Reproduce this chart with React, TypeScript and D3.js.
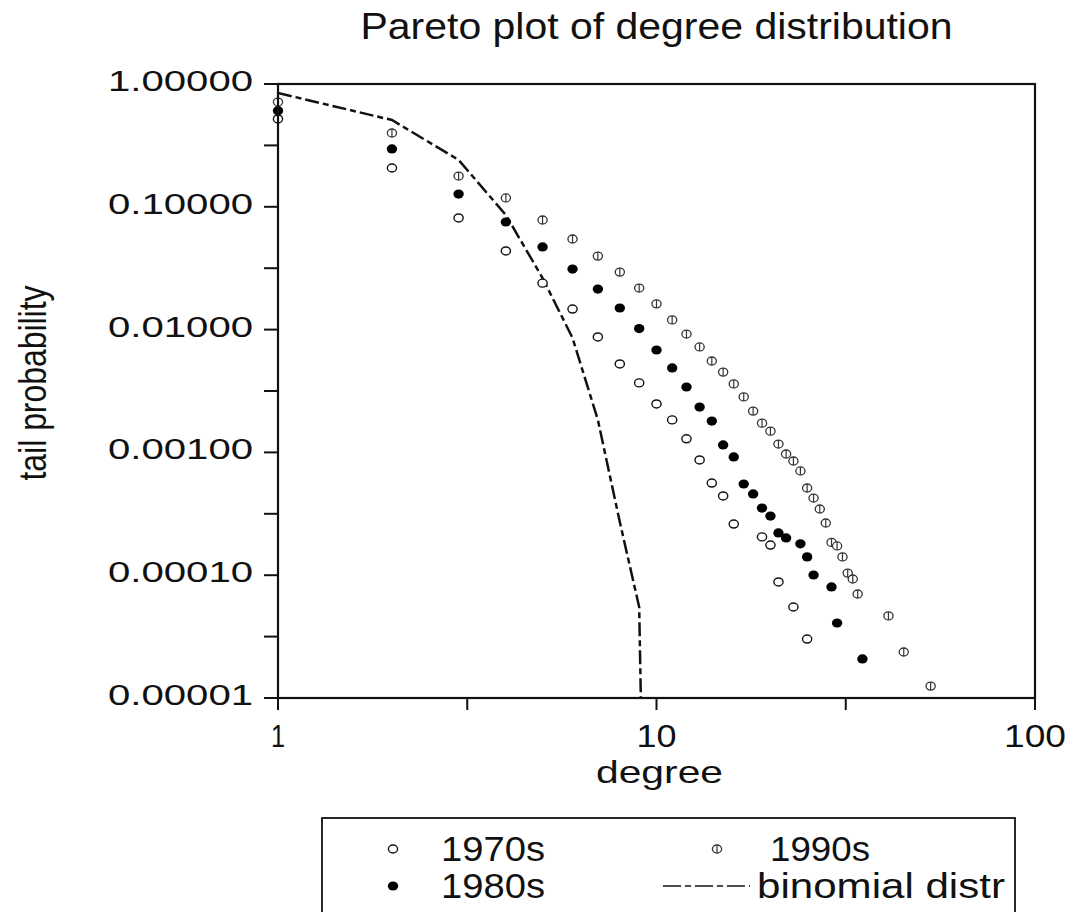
import React from 'react';
import * as d3 from 'd3';

// ---- data ----
const deg1970 = [1, 2, 3, 4, 5, 6, 7, 8, 9, 10, 11, 12, 13, 14, 15, 16, 19, 20, 21, 23, 25];
const tail1970 = [0.519, 0.207, 0.0811, 0.0437, 0.0239, 0.0147, 0.00871, 0.00525, 0.00368, 0.00248, 0.00184, 0.00129, 0.000868, 0.000563, 0.000442, 0.000261, 0.000205, 0.000176, 0.0000881, 0.0000551, 0.0000302];

const deg1980 = [1, 2, 3, 4, 5, 6, 7, 8, 9, 10, 11, 12, 13, 14, 15, 16, 17, 18, 19, 20, 21, 22, 24, 25, 26, 29, 30, 35];
const tail1980 = [0.606, 0.296, 0.127, 0.0752, 0.0471, 0.0311, 0.0214, 0.015, 0.0102, 0.00682, 0.00487, 0.00341, 0.00234, 0.0018, 0.00115, 0.000918, 0.000553, 0.000459, 0.000352, 0.000303, 0.000221, 0.000201, 0.00018, 0.000141, 0.0001004, 0.0000802, 0.0000408, 0.0000208];

const deg1990 = [1, 2, 3, 4, 5, 6, 7, 8, 9, 10, 11, 12, 13, 14, 15, 16, 17, 18, 19, 20, 21, 22, 23, 24, 25, 26, 27, 28, 29, 30, 31, 32, 33, 34, 41, 45, 53];
const tail1990 = [0.713, 0.399, 0.178, 0.118, 0.0781, 0.0547, 0.0397, 0.0294, 0.0218, 0.0162, 0.012, 0.0092, 0.00722, 0.00555, 0.00451, 0.00361, 0.00283, 0.00217, 0.00173, 0.00149, 0.00117, 0.00097, 0.000851, 0.000706, 0.000513, 0.000425, 0.000346, 0.000266, 0.000185, 0.000173, 0.000141, 0.000104, 0.0000931, 0.0000703, 0.0000466, 0.0000237, 0.0000125];

const degBinom = [1, 2, 3, 4, 5, 6, 7, 8, 9, 10];
const tailBinom = [0.845, 0.509, 0.241, 0.0857, 0.0263, 0.00855, 0.00184, 0.000271, 0.000055, 1e-12];

const xTicks = [1, 10, 100];
const xMinorTicks = [Math.sqrt(10), Math.sqrt(1000)];
const yTicks = [1, 0.1, 0.01, 0.001, 0.0001, 0.00001];
const yMinorTicks = [Math.pow(10, -0.5), Math.pow(10, -1.5), Math.pow(10, -2.5), Math.pow(10, -3.5), Math.pow(10, -4.5)];

const titleText = 'Pareto plot of degree distribution';
const xLabel = 'degree';
const yLabel = 'tail probability';
const legendLabels = ['1970s', '1980s', '1990s', 'binomial distr'];

const FONT = '"Liberation Sans", Arial, Helvetica, sans-serif';

export default function App() {
  const L = 278, R = 1035, T = 84, B = 698;
  const x = d3.scaleLog().domain([1, 100]).range([L, R]);
  const y = d3.scaleLog().domain([1e-5, 1]).range([B, T]);
  const fmtY = d3.format('.5f');

  const line = d3
    .line<number>()
    .x((_, i) => x(degBinom[i]))
    .y((d) => y(d));

  const rx = 4.6, ry = 4.0;
  const openMarker = (cx: number, cy: number, k: string) => (
    <ellipse key={k} cx={cx} cy={cy} rx={rx} ry={ry} fill="white" stroke="#111" strokeWidth={1.4} />
  );
  const fillMarker = (cx: number, cy: number, k: string) => (
    <ellipse key={k} cx={cx} cy={cy} rx={rx + 0.6} ry={ry + 0.6} fill="#000" stroke="none" />
  );
  const thetaMarker = (cx: number, cy: number, k: string) => (
    <g key={k}>
      <ellipse cx={cx} cy={cy} rx={rx} ry={ry} fill="white" stroke="#333" strokeWidth={1.3} />
      <line x1={cx} x2={cx} y1={cy - ry} y2={cy + ry} stroke="#333" strokeWidth={1.2} />
    </g>
  );

  const xLabelWidths: Record<number, number> = { 1: 14, 10: 40, 100: 62 };

  return (
    <div style={{ position: 'absolute', left: 0, top: 0 }}>
      <svg width={1073} height={912} style={{ display: 'block', background: 'white' }} fontFamily={FONT}>
        <defs>
          <clipPath id="plotclip">
            <rect x={L} y={T} width={R - L} height={B - T} />
          </clipPath>
        </defs>

        {/* title */}
        <text x={(L + R) / 2} y={39} fontSize={37} textAnchor="middle" textLength={592} lengthAdjust="spacingAndGlyphs" fill="#111">
          {titleText}
        </text>

        {/* binomial line */}
        <path
          d={line(tailBinom) || ''}
          fill="none"
          stroke="#111"
          strokeWidth={2.5}
          strokeDasharray="14,4,6,4"
          clipPath="url(#plotclip)"
        />

        {/* points */}
        <g>
          {deg1970.map((d, i) => openMarker(x(d), y(tail1970[i]), 'a' + i))}
          {deg1990.map((d, i) => thetaMarker(x(d), y(tail1990[i]), 'c' + i))}
          {deg1980.map((d, i) => fillMarker(x(d), y(tail1980[i]), 'b' + i))}
        </g>

        {/* plot box */}
        <rect x={L} y={T} width={R - L} height={B - T} fill="none" stroke="#111" strokeWidth={2.2} />

        {/* y axis ticks */}
        {[...yTicks, ...yMinorTicks].map((t, i) => (
          <line key={'yt' + i} x1={L - 14} x2={L} y1={y(t)} y2={y(t)} stroke="#111" strokeWidth={2} />
        ))}
        {yTicks.map((t, i) => (
          <text key={'yl' + i} x={108} y={y(t) + 7} fontSize={29} textLength={145} lengthAdjust="spacingAndGlyphs" fill="#111">
            {fmtY(t)}
          </text>
        ))}

        {/* x axis ticks */}
        {[...xTicks, ...xMinorTicks].map((t, i) => (
          <line key={'xt' + i} x1={x(t)} x2={x(t)} y1={B} y2={B + 12} stroke="#111" strokeWidth={2} />
        ))}
        {xTicks.map((t, i) => (
          <text key={'xl' + i} x={x(t) - xLabelWidths[t] / 2} y={747} fontSize={32} textLength={xLabelWidths[t]} lengthAdjust="spacingAndGlyphs" fill="#111">
            {String(t)}
          </text>
        ))}

        {/* axis labels */}
        <text x={(L + R) / 2 + 3} y={783} fontSize={32} textAnchor="middle" textLength={127} lengthAdjust="spacingAndGlyphs" fill="#111">
          {xLabel}
        </text>
        <g transform={`translate(46, ${(T + B) / 2 - 8}) scale(1.22, 1) rotate(-90)`}>
          <text x={0} y={0} fontSize={32} textAnchor="middle" textLength={195} lengthAdjust="spacingAndGlyphs" fill="#111">
            {yLabel}
          </text>
        </g>

        {/* legend */}
        <rect x={322} y={818} width={693} height={130} fill="white" stroke="#111" strokeWidth={1.8} />
        {openMarker(393, 849, 'lg1')}
        {fillMarker(393, 886, 'lg2')}
        {thetaMarker(717, 849, 'lg3')}
        <line x1={663} x2={750} y1={886} y2={886} stroke="#111" strokeWidth={1.6} strokeDasharray="18,4,6,4" />
        <text x={441} y={861} fontSize={35} textLength={104} lengthAdjust="spacingAndGlyphs" fill="#111">{legendLabels[0]}</text>
        <text x={441} y={898} fontSize={35} textLength={104} lengthAdjust="spacingAndGlyphs" fill="#111">{legendLabels[1]}</text>
        <text x={770} y={861} fontSize={35} textLength={100} lengthAdjust="spacingAndGlyphs" fill="#111">{legendLabels[2]}</text>
        <text x={757} y={898} fontSize={35} textLength={248} lengthAdjust="spacingAndGlyphs" fill="#111">{legendLabels[3]}</text>
      </svg>
    </div>
  );
}
